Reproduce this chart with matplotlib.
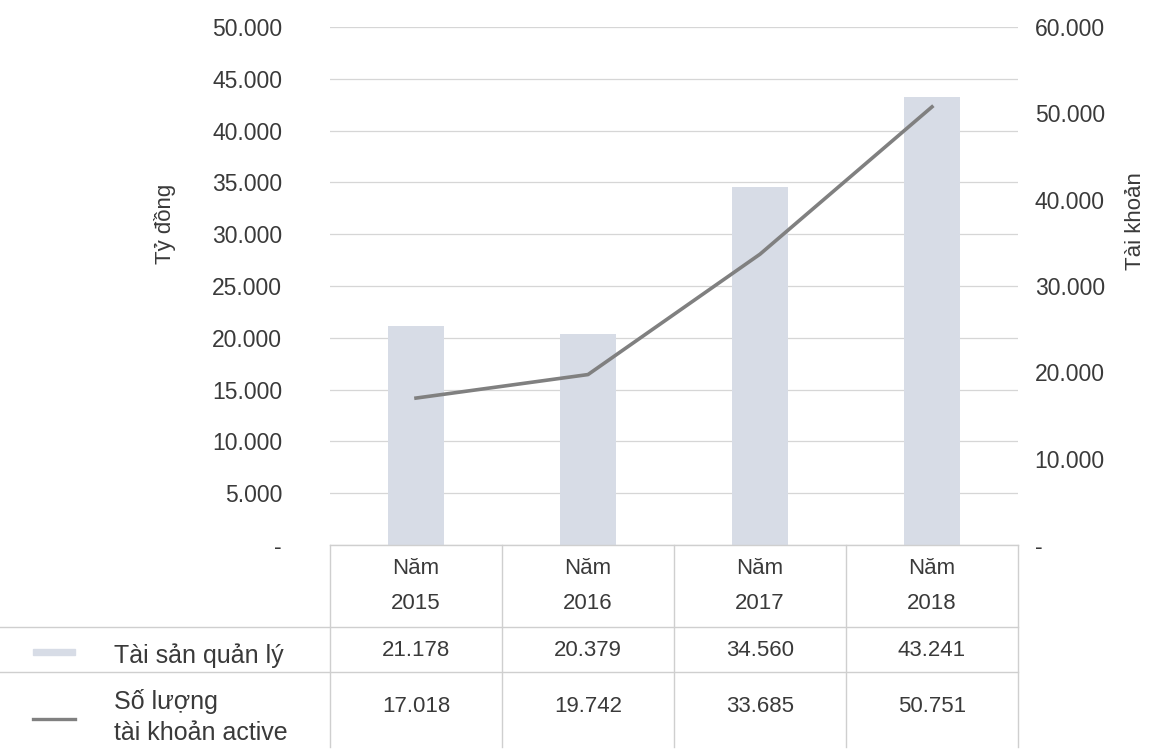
import matplotlib
matplotlib.use('Agg')
import matplotlib.pyplot as plt
from matplotlib.ticker import FuncFormatter, MultipleLocator
from matplotlib.patches import Rectangle
from matplotlib.lines import Line2D

plt.rcParams['font.family'] = ['Liberation Sans', 'DejaVu Sans']

years = ['2015', '2016', '2017', '2018']
assets = [21178, 20379, 34560, 43241]        # Tài sản quản lý (tỷ đồng)
accounts = [17018, 19742, 33685, 50751]      # Số lượng tài khoản active
row_labels = ['Tài sản quản lý', 'Số lượng\ntài khoản active']

bar_color = '#d7dce6'
line_color = '#808080'
text_color = '#3a3a3a'
grid_color = '#d6d6d6'


def vn_fmt(v, pos=None):
    if abs(v) < 1e-9:
        return '-'
    return f'{v:,.0f}'.replace(',', '.')


fig = plt.figure(figsize=(11.5, 7.49), dpi=100)
ax = fig.add_axes([330 / 1150, 1 - 545 / 749, 688 / 1150, 518 / 749])
ax2 = ax.twinx()

x = list(range(len(years)))
ax.bar(x, assets, width=0.32, color=bar_color, zorder=2)
ax2.plot(x, accounts, color=line_color, lw=2.6, zorder=3)

ax.set_xlim(-0.5, 3.5)
ax.set_ylim(0, 50000)
ax2.set_ylim(0, 60000)
ax.yaxis.set_major_locator(MultipleLocator(5000))
ax2.yaxis.set_major_locator(MultipleLocator(10000))
ax.yaxis.set_major_formatter(FuncFormatter(vn_fmt))
ax2.yaxis.set_major_formatter(FuncFormatter(vn_fmt))
ax.grid(axis='y', color=grid_color, lw=0.9, zorder=0)
ax.set_axisbelow(True)
ax.set_xticks([])

for a in (ax, ax2):
    for s in a.spines.values():
        s.set_visible(False)
ax.tick_params(axis='y', length=0, pad=34.5, labelsize=16.5, labelcolor=text_color)
ax2.tick_params(axis='y', length=0, pad=12, labelsize=16.5, labelcolor=text_color)
ax.set_ylabel('Tỷ đồng', fontsize=16, color=text_color)
ax2.set_ylabel('Tài khoản', fontsize=16, color=text_color)
ax.yaxis.set_label_coords(-0.224, 0.62)
ax2.yaxis.set_label_coords(1.156, 0.625)
ax2.set_zorder(ax.get_zorder() + 1)
ax2.patch.set_visible(False)

# data table under the chart
tr = ax.get_xaxis_transform()
lc = '#cfcfcf'
y_hdr, y_r1, y_r2 = -0.079, -0.203, -0.311
y_l1, y_l2, y_bot = -0.158, -0.246, -0.39

for i, yr in enumerate(years):
    ax.text(i, y_hdr, 'Năm\n' + yr, transform=tr, ha='center', va='center',
            fontsize=16, color=text_color, linespacing=1.85)
    ax.text(i, y_r1, vn_fmt(assets[i]), transform=tr, ha='center', va='center',
            fontsize=16, color=text_color)
    ax.text(i, y_r2, vn_fmt(accounts[i]), transform=tr, ha='center', va='center',
            fontsize=16, color=text_color)

for xb in [-0.5, 0.5, 1.5, 2.5, 3.5]:
    ax.add_line(Line2D([xb, xb], [0, y_bot], transform=tr, color=lc, lw=1.0,
                       clip_on=False))
ax.add_line(Line2D([-0.5, 3.5], [0, 0], transform=tr, color=lc, lw=1.0, clip_on=False))
for yl in (y_l1, y_l2):
    ax.add_line(Line2D([-0.95, 1.0], [yl, yl], transform=ax.transAxes, color=lc,
                       lw=1.0, clip_on=False))

# row labels with legend keys
ax.text(-0.314, -0.214, row_labels[0], transform=ax.transAxes, ha='left', va='center',
        fontsize=18, color=text_color)
ax.text(-0.314, -0.332, row_labels[1], transform=ax.transAxes, ha='left', va='center',
        fontsize=18, color=text_color, linespacing=1.4)
ax.add_patch(Rectangle((-0.432, -0.212), 0.061, 0.011, transform=ax.transAxes,
                       color=bar_color, clip_on=False))
ax.add_line(Line2D([-0.432, -0.371], [-0.336, -0.336], transform=ax.transAxes,
                   color=line_color, lw=2.4, clip_on=False))

fig.savefig('out.png', dpi=100)
